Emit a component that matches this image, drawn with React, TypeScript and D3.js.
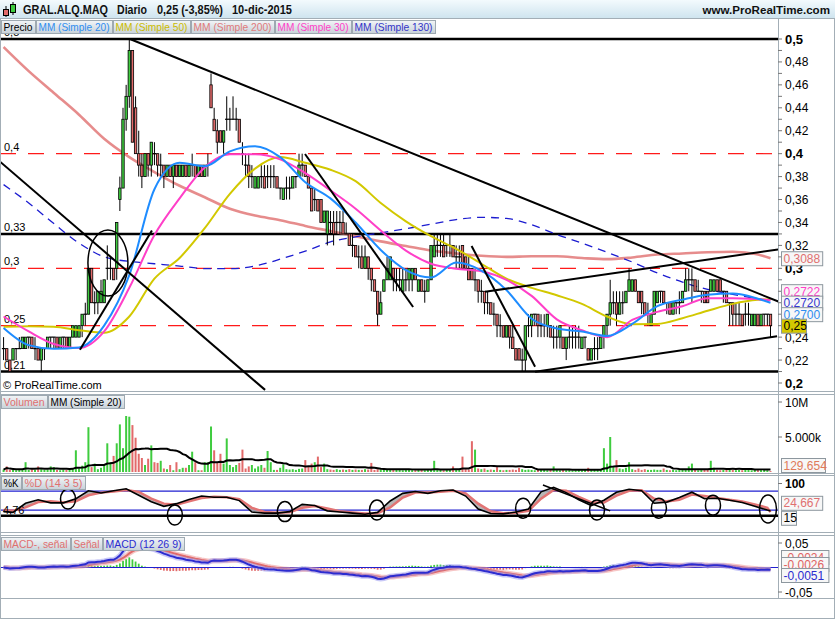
import * as d3 from 'd3';

// ---------- data ----------
const monthLabels = ['', 'ene', 'feb', 'mar', 'abr', 'may', 'jun', 'jul', 'ago', 'sep', 'oct', 'nov', 'dic'];
const monthDays = [3, 21, 20, 22, 20, 20, 22, 23, 21, 22, 22, 21, 8];

// daily open, high, low, close in euro cents (first 3 rows are end of dic 2014)
const ohlc: number[][] = [
  [23, 24, 22, 23], [23, 23, 22, 22], [22, 22, 21, 21],
  // ene
  [22, 23, 22, 23], [23, 23, 22, 23], [23, 24, 23, 23], [23, 24, 23, 24], [23, 24, 23, 24], [24, 24, 23, 24], [24, 24, 23, 23],
  [23, 24, 22, 23], [23, 23, 22, 22], [22, 23, 21, 23], [23, 23, 22, 23], [23, 24, 23, 24], [24, 24, 23, 24], [24, 24, 23, 24],
  [24, 24, 23, 23], [23, 24, 23, 24], [24, 24, 23, 24], [24, 24, 23, 23], [23, 24, 23, 24], [24, 25, 24, 25], [24, 25, 24, 25],
  // feb
  [24, 25, 24, 25], [25, 26, 24, 26], [26, 27, 25, 26], [26, 30, 26, 30], [30, 30, 27, 27], [27, 28, 26, 27], [27, 28, 26, 28],
  [27, 29, 27, 28], [27, 29, 27, 29], [30, 32, 29, 30], [30, 31, 29, 30], [30, 30, 29, 29], [30, 34, 29, 34], [36, 38, 35, 37],
  [37, 44, 37, 43], [43, 46, 42, 45], [45, 50, 44, 49], [49, 49, 41, 41], [44, 45, 40, 40], [40, 42, 38, 39],
  // mar
  [39, 40, 37, 38], [38, 40, 38, 40], [40, 40, 38, 39], [39, 41, 38, 41], [40, 41, 39, 40], [40, 40, 38, 39], [39, 40, 38, 39],
  [39, 39, 37, 38], [38, 39, 38, 39], [39, 39, 38, 38], [38, 39, 37, 39], [39, 39, 38, 38], [38, 39, 38, 39], [38, 39, 38, 39],
  [39, 39, 38, 38], [38, 39, 38, 39], [39, 40, 38, 39], [39, 39, 38, 38], [38, 39, 38, 39], [39, 39, 38, 38], [38, 39, 38, 39],
  [39, 40, 38, 39],
  // abr
  [46, 47, 44, 44], [43, 44, 42, 42], [42, 43, 40, 41], [42, 42, 41, 41], [41, 42, 40, 42], [43, 45, 42, 43], [43, 44, 42, 43],
  [43, 45, 43, 43], [43, 44, 42, 43], [43, 43, 41, 41], [40, 41, 39, 40], [39, 40, 38, 39], [39, 40, 37, 38], [38, 39, 37, 38],
  [37, 38, 37, 38], [37, 38, 37, 38], [38, 39, 37, 38], [38, 39, 37, 37], [38, 39, 37, 38], [38, 39, 37, 38],
  // may
  [38, 39, 37, 38], [38, 38, 37, 37], [37, 37, 36, 37], [36, 37, 36, 37], [37, 38, 36, 37], [37, 38, 36, 37], [37, 38, 37, 38],
  [38, 38, 37, 38], [38, 40, 38, 39], [39, 40, 38, 39], [39, 39, 38, 38], [38, 38, 37, 37], [37, 37, 35, 35], [36, 37, 35, 36],
  [36, 36, 35, 35], [36, 36, 34, 34], [34, 35, 34, 35], [33, 35, 32, 35], [34, 35, 33, 34], [34, 35, 32, 33],
  // jun
  [34, 35, 33, 34], [34, 35, 33, 34], [34, 35, 33, 33], [33, 34, 33, 33], [33, 33, 32, 32], [32, 33, 31, 32], [32, 32, 31, 31],
  [31, 32, 30, 31], [31, 32, 30, 30], [30, 32, 30, 31], [31, 31, 29, 30], [30, 30, 28, 29], [29, 29, 28, 28], [28, 28, 25, 26],
  [26, 28, 26, 27], [28, 29, 28, 29], [29, 31, 29, 30], [29, 31, 29, 31], [30, 30, 28, 29], [29, 30, 28, 29], [29, 30, 28, 29],
  [28, 30, 28, 29],
  // jul
  [29, 30, 28, 29], [29, 30, 28, 30], [29, 30, 28, 30], [30, 30, 29, 29], [28, 29, 28, 29], [29, 29, 28, 28], [28, 29, 27, 28],
  [28, 29, 28, 29], [29, 32, 29, 32], [31, 33, 31, 32], [32, 33, 31, 32], [32, 33, 31, 32], [32, 33, 31, 31], [32, 32, 31, 32],
  [32, 33, 31, 32], [32, 32, 31, 31], [31, 32, 30, 31], [31, 32, 30, 31], [32, 32, 30, 30], [31, 31, 30, 30], [30, 31, 29, 29],
  [30, 30, 29, 29], [29, 30, 28, 29],
  // ago
  [29, 29, 27, 28], [28, 29, 27, 28], [28, 28, 26, 27], [27, 28, 26, 27], [27, 27, 26, 26], [26, 27, 25, 26], [26, 26, 24, 25],
  [25, 26, 24, 25], [25, 25, 24, 24], [24, 25, 24, 25], [25, 25, 23, 24], [24, 25, 23, 23], [23, 23, 22, 22], [23, 23, 22, 22],
  [22, 23, 21, 22], [22, 25, 21, 25], [25, 26, 24, 25], [25, 26, 24, 26], [26, 26, 25, 26], [26, 26, 24, 25], [25, 26, 24, 25],
  // sep
  [25, 26, 24, 25], [25, 26, 24, 26], [25, 25, 24, 24], [24, 25, 23, 24], [24, 25, 23, 24], [24, 25, 23, 25], [24, 24, 23, 23],
  [23, 24, 22, 24], [24, 25, 23, 24], [24, 25, 23, 24], [24, 25, 23, 24], [24, 25, 23, 24], [23, 24, 23, 24], [24, 24, 23, 24],
  [23, 23, 22, 22], [22, 23, 22, 23], [23, 24, 22, 23], [23, 24, 22, 23], [23, 24, 23, 24], [24, 25, 23, 25], [25, 26, 24, 26],
  [26, 29, 25, 27],
  // oct
  [27, 28, 26, 27], [27, 28, 25, 26], [26, 28, 26, 27], [27, 28, 26, 27], [27, 28, 27, 28], [28, 30, 28, 29], [28, 29, 28, 29],
  [29, 29, 28, 28], [28, 28, 27, 27], [28, 28, 26, 27], [27, 27, 26, 26], [26, 27, 25, 26], [25, 26, 25, 26], [26, 28, 26, 28],
  [27, 28, 27, 28], [28, 28, 27, 28], [28, 28, 27, 27], [27, 27, 26, 27], [27, 27, 26, 26], [26, 27, 26, 27], [27, 27, 26, 27],
  [27, 28, 26, 27],
  // nov
  [27, 28, 27, 28], [28, 30, 28, 29], [29, 30, 28, 29], [29, 30, 27, 29], [29, 29, 28, 28], [28, 29, 28, 28], [28, 28, 27, 28],
  [28, 28, 27, 27], [28, 28, 27, 27], [28, 29, 28, 29], [28, 29, 28, 29], [29, 29, 28, 28], [29, 29, 28, 28], [28, 28, 27, 28],
  [28, 28, 27, 27], [27, 27, 25, 27], [27, 27, 25, 26], [26, 27, 25, 26], [26, 27, 25, 26], [26, 26, 25, 25], [26, 27, 25, 26],
  // dic
  [26, 27, 25, 26], [25, 26, 25, 26], [25, 26, 25, 26], [26, 26, 25, 25], [25, 26, 25, 26], [26, 26, 25, 26], [26, 26, 25, 26],
  [26, 26, 24, 25],
];

// daily volume, thousands of shares
const volume = [
  350, 800, 300,
  300, 250, 400, 300, 1400, 300, 400, 300, 800, 400, 300, 350, 800, 700, 300, 250, 350, 300, 400, 450, 3100,
  500, 900, 1400, 6400, 700, 1200, 400, 600, 900, 4100, 1400, 2300, 4100, 6800, 3400, 8000, 7900, 6700, 4900, 2600,
  2000, 1000, 1900, 3800, 1400, 1300, 1600, 500, 400, 1000, 250, 1400, 400, 600, 600, 1000, 2900, 1400, 250, 250, 1400, 1400,
  6500, 3100, 1400, 2600, 1200, 4800, 1000, 700, 1000, 1300, 3200, 500, 800, 1000, 500, 800, 1000, 600, 3000, 1400,
  300, 300, 600, 1100, 400, 350, 400, 300, 450, 500, 1700, 800, 1200, 1400, 2200, 700, 1200, 400, 350, 300,
  400, 300, 350, 300, 400, 300, 350, 300, 300, 400, 350, 1300, 300, 400, 350, 300, 400, 300, 350, 300, 300, 250,
  300, 350, 300, 250, 300, 300, 250, 300, 350, 1600, 300, 300, 250, 300, 400, 800, 300, 300, 2200, 400, 350, 4400, 3200,
  500, 400, 500, 300, 350, 300, 700, 300, 250, 300, 300, 350, 300, 600, 400, 300, 350, 300, 250, 300, 300,
  300, 250, 300, 800, 300, 250, 300, 250, 300, 200, 250, 300, 250, 300, 600, 350, 300, 300, 400, 3400, 1200, 5000,
  700, 1700, 500, 400, 600, 1400, 400, 300, 500, 300, 400, 300, 300, 350, 300, 300, 500, 300, 250, 300, 250, 300,
  300, 350, 800, 1200, 300, 250, 300, 300, 300, 1600, 600, 300, 250, 300, 350, 300, 300, 250, 300, 250, 300,
  300, 250, 300, 250, 400, 300, 250, 129.654,
];

// moving averages read every 8 sessions (plus the last one)
const maDays = [...d3.range(0, 241, 8), 244];
const ma20 = [0.248, 0.233, 0.2298, 0.231, 0.25, 0.294, 0.369, 0.392, 0.389, 0.402, 0.4065, 0.397, 0.375, 0.361, 0.34, 0.316,
  0.2985, 0.292, 0.305, 0.298, 0.281, 0.256, 0.2475, 0.245, 0.241, 0.2515, 0.267, 0.2727, 0.277, 0.278, 0.2735, 0.27];
const ma50 = [0.249, 0.2495, 0.249, 0.246, 0.2438, 0.258, 0.291, 0.309, 0.335, 0.365, 0.387, 0.397, 0.392, 0.386, 0.376, 0.357,
  0.341, 0.328, 0.317, 0.304, 0.291, 0.283, 0.2765, 0.269, 0.258, 0.2513, 0.2515, 0.2565, 0.263, 0.269, 0.2725, 0.273];
const ma200 = [0.493, 0.472, 0.453, 0.434, 0.413, 0.397, 0.384, 0.372, 0.362, 0.352, 0.346, 0.342, 0.337, 0.3325, 0.328, 0.3235,
  0.3195, 0.3155, 0.313, 0.311, 0.31, 0.3105, 0.3105, 0.309, 0.308, 0.3095, 0.312, 0.313, 0.314, 0.3145, 0.312, 0.3088];
const ma30 = [0.258, 0.245, 0.234, 0.2305, 0.245, 0.283, 0.329, 0.361, 0.388, 0.3995, 0.3995, 0.395, 0.383, 0.368, 0.352, 0.333,
  0.3155, 0.304, 0.2997, 0.2975, 0.29, 0.276, 0.2555, 0.246, 0.24, 0.255, 0.262, 0.267, 0.274, 0.274, 0.273, 0.2722];
const ma130 = [0.373, 0.357, 0.339, 0.322, 0.31, 0.306, 0.304, 0.302, 0.2998, 0.2997, 0.302, 0.308, 0.315, 0.323, 0.3275, 0.331,
  0.3345, 0.3385, 0.3425, 0.3445, 0.3435, 0.338, 0.3295, 0.322, 0.314, 0.3055, 0.296, 0.288, 0.2817, 0.2773, 0.2735, 0.272];

// stochastic (14 3 5) read every 4 sessions
const stochDays = [0, ...d3.range(3, 244, 4), 244];
const stochK = [26, 24, 48, 57, 49, 49, 60, 81, 75, 81, 86, 69, 52, 40, 47, 58, 67, 64, 64, 55, 25, 22, 22, 26, 45, 42, 28, 25, 22,
  19, 24, 54, 74, 79, 74, 81, 83, 67, 33, 21, 20, 25, 33, 78, 90, 76, 57, 42, 56, 77, 85, 81, 48, 51, 63, 77, 60, 61, 56, 50, 40,
  30, 28];
const stochD = [30, 28, 37, 51, 53, 50, 53, 69, 76, 79, 83, 78, 60, 47, 44, 53, 62, 65, 64, 59, 36, 25, 23, 24, 36, 41, 34, 27, 24,
  21, 22, 37, 63, 76, 76, 78, 81, 74, 47, 27, 22, 23, 28, 60, 83, 81, 65, 50, 50, 68, 81, 82, 60, 53, 57, 71, 67, 62, 57, 53, 45,
  36, 24.667];
const stochLevels = [80, 30];
const stochUserLevel = 15;

// MACD read-outs shown on the right axis
const macdReadouts = [
  { v: -0.0024, color: '#e06464' },
  { v: -0.0026, color: '#e06464' },
  { v: -0.0051, color: '#2c2cd0' },
];

// drawn levels and trend lines (session index, price)
const solidLevels = [0.5, 0.33, 0.21];
const dashedLevels = [0.4, 0.3, 0.25];
const trendLines: number[][][] = [
  [[40.2, 0.5], [246.5, 0.271]],
  [[-1.1, 0.393], [83.2, 0.194]],
  [[24.3, 0.229], [47.2, 0.333]],
  [[95.9, 0.3997], [130.3, 0.2663]],
  [[148.9, 0.3195], [169.1, 0.2142]],
  [[153.2, 0.2796], [246.4, 0.3165]],
  [[169.1, 0.2098], [246.1, 0.2407]],
];
const priceCircle = [33.2, 0.3046];
const stochCircles = [[20.5, 59], [54.5, 17], [89.5, 26], [118.8, 30], [165.3, 35], [188.8, 30], [208.5, 35], [225.7, 43], [243.2, 33]];
const stochTrend = [[171.6, 96], [193, 28]];

// ---------- helpers ----------
const FONT = "'Liberation Sans', Arial, Helvetica, sans-serif";
const GREEN = '#3fcc3f';
const RED = '#e26a6a';
const FRAME = '#a3aeb6';
const comma = (s: string) => s.replace('.', ',').replace('\u2212', '-');

type LegendItem = { label: string; color: string; w: number };

function Legend({ x0, y, items }: { x0: number; y: number; items: LegendItem[] }) {
  let cx = x0;
  return (
    <g>
      {items.map((it) => {
        const left = cx;
        cx += it.w + 1;
        return (
          <g key={it.label}>
            <rect x={left + 0.5} y={y + 0.5} width={it.w} height={13} fill="url(#lg)" stroke="#9ea9b1" />
            <text x={left + 2.5} y={y + 10.6} fontSize={11} fill={it.color} textLength={it.w - 5} lengthAdjust="spacingAndGlyphs">
              {it.label}
            </text>
          </g>
        );
      })}
    </g>
  );
}

function ValueBox({ x, y, text, color, fill = '#f7f7f7', w }: { x: number; y: number; text: string; color: string; fill?: string; w?: number }) {
  const width = w ?? text.length * 6.2 + 4;
  return (
    <g>
      <rect x={x + 0.5} y={y - 6.5} width={width} height={14} fill={fill} stroke="#8d979e" />
      <text x={x + 2.5} y={y + 4.5} fontSize={12} fill={color}>{text}</text>
    </g>
  );
}

export default function App() {
  const bars = ohlc.map(([o, h, l, c], i) => ({ i, o: o / 100, h: h / 100, l: l / 100, c: c / 100 }));
  const n = bars.length;
  const AX = 778;

  const x = d3.scaleLinear().domain([0, n - 1]).range([3.57, 770.5]);
  const py = d3.scaleLinear().domain([0.2, 0.5]).range([383, 39]);
  const vy = d3.scaleLinear().domain([0, 10000]).range([472, 402]);
  const sy = d3.scaleLinear().domain([0, 100]).range([521.5, 483.5]);
  const my = d3.scaleLinear().domain([-0.05, 0.05]).range([592, 543]);

  const monthStarts = d3.cumsum([0, ...monthDays]).slice(0, monthDays.length);

  // MACD 12 26 9 from closes
  const ema = (vals: number[], k: number) => {
    const a = 2 / (k + 1);
    const out: number[] = [];
    vals.forEach((v, i) => out.push(i === 0 ? v : out[i - 1] + a * (v - out[i - 1])));
    return out;
  };
  const closes = bars.map((b) => b.c);
  const e12 = ema(closes, 12);
  const e26 = ema(closes, 26);
  const macd = closes.map((_, i) => e12[i] - e26[i]);
  const signal = ema(macd, 9);
  const hist = macd.map((m, i) => m - signal[i]);

  const volMA = volume.map((_, i) => d3.mean(volume.slice(Math.max(0, i - 19), i + 1)) as number);

  const maLine = d3.line<number>().x((_, i) => x(maDays[i])).y((v) => py(v)).curve(d3.curveMonotoneX);
  const sLine = d3.line<number>().x((_, i) => x(stochDays[i])).y((v) => sy(v));
  const sArea = d3.area<number>().x((_, i) => x(stochDays[i])).y0((_, i) => sy(stochD[i])).y1((v) => sy(v));
  const mLine = d3.line<number>().x((_, i) => x(i)).y((v) => my(v));
  const vLine = d3.line<number>().x((_, i) => x(i)).y((v) => vy(v));

  const priceTicks = d3.range(20, 51).map((c) => c / 100);
  const lastBox = py(bars[n - 1].c);
  const maBoxes = [
    { v: ma20[ma20.length - 1], color: '#2f8df0' },
    { v: ma130[ma130.length - 1], color: '#3838d0' },
    { v: ma30[ma30.length - 1], color: '#ff3fc8' },
  ];
  // axis labels hidden behind the value boxes in the reference
  const hiddenTicks = [26, 28];

  const volColor = (i: number) => {
    const b = bars[i];
    const prev = i > 0 ? bars[i - 1].c : b.o;
    if (b.c > prev) return GREEN;
    if (b.c < prev) return RED;
    return b.c >= b.o ? GREEN : RED;
  };

  return (
    <svg width={835} height={620} style={{ position: 'absolute', left: 0, top: 0, fontFamily: FONT }}>
      <defs>
        <linearGradient id="hdr" x1="0" y1="0" x2="0" y2="1">
          <stop offset="0" stopColor="#f3fafd" />
          <stop offset="1" stopColor="#cde3ee" />
        </linearGradient>
        <linearGradient id="lg" x1="0" y1="0" x2="0" y2="1">
          <stop offset="0" stopColor="#f2f5f7" />
          <stop offset="1" stopColor="#c8d2d9" />
        </linearGradient>
        <clipPath id="cp"><rect x={1} y={19} width={AX - 1} height={372} /></clipPath>
        <clipPath id="cv"><rect x={1} y={395} width={AX - 1} height={77} /></clipPath>
        <clipPath id="cs"><rect x={1} y={476} width={AX - 1} height={55} /></clipPath>
        <clipPath id="cm"><rect x={1} y={536} width={AX - 1} height={61} /></clipPath>
      </defs>

      <rect x={0} y={0} width={835} height={620} fill="#ffffff" />

      {/* header */}
      <rect x={0} y={0} width={835} height={19} fill="url(#hdr)" />
      <line x1={0} x2={835} y1={18.5} y2={18.5} stroke={FRAME} />
      <line x1={6} x2={6} y1={6} y2={17} stroke="#000" />
      <rect x={3.5} y={9.5} width={5} height={6} fill={RED} stroke="#000" />
      <line x1={13} x2={13} y1={2} y2={15} stroke="#000" />
      <rect x={10.5} y={4.5} width={5} height={8} fill={GREEN} stroke="#000" />
      <g fontWeight="bold" fill="#111">
        <text x={23} y={14} fontSize={12.5} textLength={85} lengthAdjust="spacingAndGlyphs">GRAL.ALQ.MAQ</text>
        <text x={117} y={14} fontSize={12.5} textLength={30} lengthAdjust="spacingAndGlyphs">Diario</text>
        <text x={157} y={14} fontSize={12.5} textLength={66} lengthAdjust="spacingAndGlyphs">0,25 (-3,85%)</text>
        <text x={232} y={14} fontSize={12.5} textLength={60} lengthAdjust="spacingAndGlyphs">10-dic-2015</text>
        <text x={830} y={14} fontSize={11.6} textAnchor="end">www.ProRealTime.com</text>
      </g>

      {/* panel frames */}
      <g fill="none" stroke={FRAME}>
        <rect x={0.5} y={18.5} width={834} height={600} />
        <line x1={AX + 0.5} x2={AX + 0.5} y1={19} y2={598} />
        {[391, 394, 473, 475, 532, 535, 598].map((yy) => (
          <line key={yy} x1={0} x2={835} y1={yy + 0.5} y2={yy + 0.5} />
        ))}
      </g>

      {/* ---------- price panel ---------- */}
      <g clipPath="url(#cp)">
        {dashedLevels.map((v) => (
          <g key={v}>
            <line x1={0} x2={AX} y1={py(v)} y2={py(v)} stroke="#ff1a1a" strokeWidth={1.2} strokeDasharray="16 12" />
            <text x={4} y={py(v) - 3} fontSize={11}>{comma(d3.format('.2~f')(v))}</text>
          </g>
        ))}
        {solidLevels.map((v) => (
          <g key={v}>
            <line x1={0} x2={AX} y1={py(v)} y2={py(v)} stroke="#000" strokeWidth={2.5} />
            <text x={4} y={py(v) - 3} fontSize={11}>{comma(d3.format('.2~f')(v))}</text>
          </g>
        ))}

        <path d={maLine(ma200) ?? ''} fill="none" stroke="#e27878" strokeOpacity={0.85} strokeWidth={2.6} />
        <path d={maLine(ma130) ?? ''} fill="none" stroke="#1c1cd0" strokeWidth={1.3} strokeDasharray="8 6" />

        {bars.map((b) => {
          const cx = x(b.i);
          const up = b.c >= b.o;
          return (
            <g key={b.i}>
              <line x1={cx} x2={cx} y1={py(b.h)} y2={py(b.l)} stroke="#000" strokeWidth={1} />
              {b.o === b.c ? (
                <line x1={cx - 1.7} x2={cx + 1.7} y1={py(b.c)} y2={py(b.c)} stroke="#000" strokeWidth={1.2} />
              ) : (
                <rect x={cx - 1.2} y={py(Math.max(b.o, b.c))} width={2.4} height={Math.abs(py(b.o) - py(b.c))}
                  fill={up ? GREEN : RED} stroke="#000" strokeWidth={0.8} />
              )}
            </g>
          );
        })}

        <path d={maLine(ma50) ?? ''} fill="none" stroke="#d2c800" strokeWidth={2} />
        <path d={maLine(ma30) ?? ''} fill="none" stroke="#ff3fc8" strokeWidth={2} />
        <path d={maLine(ma20) ?? ''} fill="none" stroke="#1e8cff" strokeWidth={2} />

        {trendLines.map((t, k) => (
          <line key={k} x1={x(t[0][0])} y1={py(t[0][1])} x2={x(t[1][0])} y2={py(t[1][1])} stroke="#000" strokeWidth={2} />
        ))}
        <ellipse cx={x(priceCircle[0])} cy={py(priceCircle[1])} rx={20} ry={33} fill="none" stroke="#000" strokeWidth={1.5} />
        <text x={3} y={389} fontSize={11}>© ProRealTime.com</text>
      </g>

      <Legend x0={1} y={20} items={[
        { label: 'Precio', color: '#000', w: 34 },
        { label: 'MM (Simple 20)', color: '#2f8df0', w: 76 },
        { label: 'MM (Simple 50)', color: '#cabb00', w: 77 },
        { label: 'MM (Simple 200)', color: '#e07a7a', w: 83 },
        { label: 'MM (Simple 30)', color: '#ff3fc8', w: 76 },
        { label: 'MM (Simple 130)', color: '#3434c8', w: 83 },
      ]} />

      {/* price axis */}
      {priceTicks.map((v) => {
        const c = Math.round(v * 100);
        const yy = py(v);
        const showLabel = c % 2 === 0 && !hiddenTicks.includes(c);
        return (
          <g key={c}>
            <line x1={AX} x2={AX + 4} y1={yy} y2={yy} stroke="#777" />
            {showLabel && (
              <text x={785} y={yy + 4.5} fontSize={c % 10 === 0 ? 13 : 12} fontWeight={c % 10 === 0 ? 'bold' : 'normal'}>
                {comma(d3.format('.2~f')(v))}
              </text>
            )}
          </g>
        );
      })}
      <ValueBox x={781} y={py(ma200[ma200.length - 1])} text={comma(d3.format('.4f')(ma200[ma200.length - 1]))} color="#e07070" />
      {maBoxes.slice().reverse().map((m, k) => (
        <ValueBox key={k} x={781} y={lastBox - 11.5 * (maBoxes.length - k)} text={comma(d3.format('.4f')(m.v))} color={m.color} />
      ))}
      <ValueBox x={781} y={lastBox} text={comma(d3.format('.2~f')(bars[n - 1].c))} color="#000" fill="#d4c800" w={25} />

      {/* ---------- volume panel ---------- */}
      <g clipPath="url(#cv)">
        {volume.map((v, i) => (
          <rect key={i} x={x(i) - 1} y={vy(v)} width={2} height={vy(0) - vy(v)} fill={volColor(i)} />
        ))}
        <path d={vLine(volMA) ?? ''} fill="none" stroke="#000" strokeWidth={2} />
      </g>
      <Legend x0={1} y={395} items={[
        { label: 'Volumen', color: '#e07070', w: 46 },
        { label: 'MM (Simple 20)', color: '#000', w: 76 },
      ]} />
      {[10000, 5000].map((v) => (
        <g key={v}>
          <line x1={AX} x2={AX + 4} y1={vy(v)} y2={vy(v)} stroke="#777" />
          <text x={785} y={vy(v) + 4.5} fontSize={12}>{v === 10000 ? '10M' : '5.000k'}</text>
        </g>
      ))}
      <ValueBox x={781} y={Math.min(vy(volume[n - 1]), 465)} text={d3.format('.3f')(volume[n - 1])} color="#e07a5a" w={44} />

      {/* ---------- stochastic panel ---------- */}
      <g clipPath="url(#cs)">
        {stochLevels.map((v) => (
          <line key={v} x1={0} x2={AX} y1={sy(v)} y2={sy(v)} stroke="#2020d0" strokeWidth={1.2} />
        ))}
        <line x1={0} x2={AX} y1={sy(stochUserLevel)} y2={sy(stochUserLevel)} stroke="#000" strokeWidth={2.5} />
        <path d={sArea(stochK) ?? ''} fill="#a9a9a9" opacity={0.85} />
        <path d={sLine(stochD) ?? ''} fill="none" stroke="#e27474" strokeWidth={2.5} />
        <path d={sLine(stochK) ?? ''} fill="none" stroke="#000" strokeWidth={1.6} />
        {stochCircles.map((c, k) => (
          <ellipse key={k} cx={x(c[0])} cy={sy(c[1])} rx={k === stochCircles.length - 1 ? 8.5 : 7.5} ry={k === stochCircles.length - 1 ? 14 : 10}
            fill="none" stroke="#000" strokeWidth={1.5} />
        ))}
        <line x1={x(stochTrend[0][0])} y1={sy(stochTrend[0][1])} x2={x(stochTrend[1][0])} y2={sy(stochTrend[1][1])} stroke="#000" strokeWidth={1.5} />
        <text x={3} y={sy(30) + 4} fontSize={11}>4,76</text>
      </g>
      <Legend x0={1} y={476} items={[
        { label: '%K', color: '#000', w: 20 },
        { label: '%D (14 3 5)', color: '#e07070', w: 63 },
      ]} />
      <line x1={AX} x2={AX + 4} y1={sy(100)} y2={sy(100)} stroke="#777" />
      <text x={785} y={sy(100) + 4.5} fontSize={12} fontWeight="bold">100</text>
      <ValueBox x={781} y={Math.min(sy(stochD[stochD.length - 1]), sy(stochUserLevel) + 2 - 15)} text={comma(d3.format('.3f')(stochD[stochD.length - 1]))} color="#e07070" />
      <ValueBox x={781} y={sy(stochUserLevel) + 2} text={String(stochUserLevel)} color="#000" w={15} />

      {/* ---------- MACD panel ---------- */}
      <g clipPath="url(#cm)">
        {hist.map((h, i) => (
          <rect key={i} x={x(i) - 0.9} y={Math.min(my(0), my(h))} width={1.8} height={Math.abs(my(h) - my(0))} fill={h >= 0 ? GREEN : RED} />
        ))}
        <line x1={0} x2={AX} y1={my(0)} y2={my(0)} stroke="#2020d0" strokeWidth={1.2} />
        <path d={mLine(signal) ?? ''} fill="none" stroke="#f0a0a0" strokeWidth={5} strokeOpacity={0.6} />
        <path d={mLine(signal) ?? ''} fill="none" stroke="#e06a6a" strokeWidth={2} />
        <path d={mLine(macd) ?? ''} fill="none" stroke="#9a9af0" strokeWidth={5} strokeOpacity={0.55} />
        <path d={mLine(macd) ?? ''} fill="none" stroke="#2c2cd0" strokeWidth={2} />
      </g>
      <Legend x0={1} y={537} items={[
        { label: 'MACD-, señal', color: '#e07070', w: 69 },
        { label: 'Señal', color: '#e07070', w: 31 },
        { label: 'MACD (12 26 9)', color: '#2c2cd0', w: 81 },
      ]} />
      {[0.05, -0.05].map((v) => (
        <g key={v}>
          <line x1={AX} x2={AX + 4} y1={my(v)} y2={my(v)} stroke="#777" />
          <text x={785} y={my(v) + 4.5} fontSize={12}>{comma(d3.format('.2f')(v))}</text>
        </g>
      ))}
      {macdReadouts.map((r, k) => (
        <ValueBox key={k} x={781} y={557 + k * 7 + (k === 2 ? 4 : 0)} text={comma(d3.format('.4f')(r.v))} color={r.color} />
      ))}

      {/* ---------- time axis ---------- */}
      {monthStarts.map((s, k) =>
        monthLabels[k] ? (
          <g key={k}>
            <line x1={x(s)} x2={x(s)} y1={598} y2={603} stroke="#555" />
            <text x={x(s)} y={616} fontSize={12} textAnchor="middle">{monthLabels[k]}</text>
          </g>
        ) : null,
      )}
    </svg>
  );
}
